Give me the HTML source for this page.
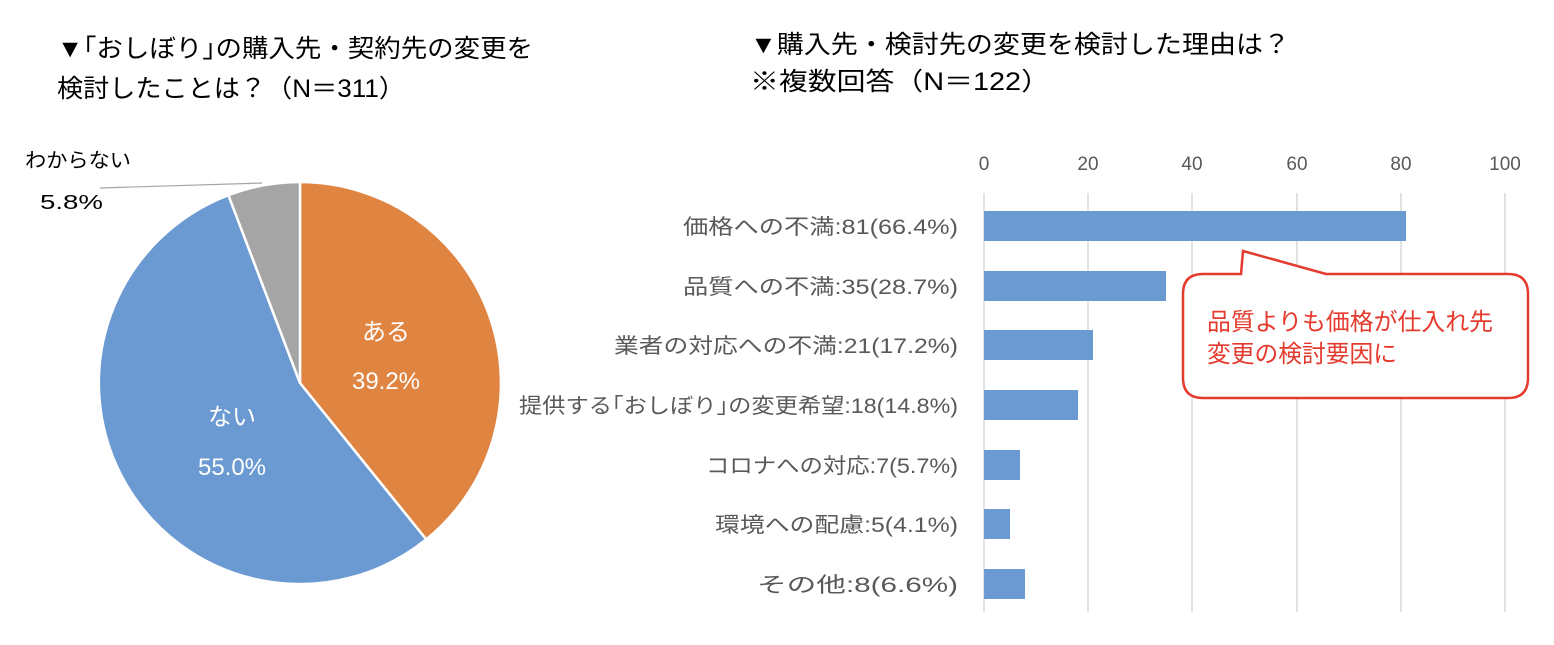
<!DOCTYPE html>
<html><head><meta charset="utf-8"><style>
body{margin:0;background:#fff;}
svg text{font-family:"Liberation Sans","Noto Sans CJK JP",sans-serif;}
</style></head><body>
<svg width="1554" height="640" viewBox="0 0 1554 640" xmlns="http://www.w3.org/2000/svg">
<rect width="1554" height="640" fill="#fff"/>
<text x="57" y="57" font-size="25" fill="#000" textLength="476" lengthAdjust="spacingAndGlyphs">▼｢おしぼり｣の購入先・契約先の変更を</text>
<text x="57" y="97" font-size="25" fill="#000" textLength="348" lengthAdjust="spacingAndGlyphs">検討したことは？（N＝311）</text>
<text x="750" y="53" font-size="25" fill="#000" textLength="540" lengthAdjust="spacingAndGlyphs">▼購入先・検討先の変更を検討した理由は？</text>
<text x="750" y="90" font-size="25" fill="#000" textLength="300" lengthAdjust="spacingAndGlyphs">※複数回答（N＝122）</text>
<!-- pie -->
<g stroke="#fff" stroke-width="2.5" stroke-linejoin="round">
<path d="M300,383 L300,182 A201,201 0 0 1 426.2,539.4 Z" fill="#E08442"/>
<path d="M300,383 L426.2,539.4 A201,201 0 1 1 228.4,195.2 Z" fill="#6B9AD2"/>
<path d="M300,383 L228.4,195.2 A201,201 0 0 1 300,182 Z" fill="#A5A5A5"/>
</g>
<text x="386" y="340" font-size="24" fill="#fff" text-anchor="middle">ある</text>
<text x="386" y="389" font-size="24" fill="#fff" text-anchor="middle">39.2%</text>
<text x="232" y="425" font-size="24" fill="#fff" text-anchor="middle">ない</text>
<text x="232" y="475" font-size="24" fill="#fff" text-anchor="middle">55.0%</text>
<polyline points="100,188 262,183" stroke="#A5A5A5" stroke-width="1.2" fill="none"/>
<text x="25" y="167" font-size="20" fill="#000" textLength="106" lengthAdjust="spacingAndGlyphs">わからない</text>
<text x="40" y="209" font-size="20" fill="#000" textLength="63" lengthAdjust="spacingAndGlyphs">5.8%</text>
<!-- bar chart -->
<g stroke="#D9D9D9" stroke-width="1.5">
<line x1="984" y1="193" x2="984" y2="612"/><line x1="1088" y1="193" x2="1088" y2="612"/>
<line x1="1192" y1="193" x2="1192" y2="612"/><line x1="1297" y1="193" x2="1297" y2="612"/>
<line x1="1401" y1="193" x2="1401" y2="612"/><line x1="1505" y1="193" x2="1505" y2="612"/>
</g>
<g font-size="19" fill="#595959" text-anchor="middle">
<text x="984" y="170">0</text><text x="1088" y="170">20</text><text x="1192" y="170">40</text>
<text x="1297" y="170">60</text><text x="1401" y="170">80</text><text x="1505" y="170">100</text>
</g>
<g fill="#6B9AD2">
<rect x="984" y="211" width="422" height="30"/>
<rect x="984" y="271" width="182" height="30"/>
<rect x="984" y="330" width="109" height="30"/>
<rect x="984" y="390" width="94" height="30"/>
<rect x="984" y="450" width="36" height="30"/>
<rect x="984" y="509" width="26" height="30"/>
<rect x="984" y="569" width="41" height="30"/>
</g>
<g font-size="21" fill="#595959" text-anchor="end" lengthAdjust="spacingAndGlyphs">
<text x="958" y="234" textLength="275" lengthAdjust="spacingAndGlyphs">価格への不満:81(66.4%)</text>
<text x="958" y="294" textLength="275" lengthAdjust="spacingAndGlyphs">品質への不満:35(28.7%)</text>
<text x="958" y="353" textLength="344" lengthAdjust="spacingAndGlyphs">業者の対応への不満:21(17.2%)</text>
<text x="958" y="413" textLength="439" lengthAdjust="spacingAndGlyphs">提供する｢おしぼり｣の変更希望:18(14.8%)</text>
<text x="958" y="473" textLength="252" lengthAdjust="spacingAndGlyphs">コロナへの対応:7(5.7%)</text>
<text x="958" y="532" textLength="243" lengthAdjust="spacingAndGlyphs">環境への配慮:5(4.1%)</text>
<text x="958" y="592" textLength="201" lengthAdjust="spacingAndGlyphs">その他:8(6.6%)</text>
</g>
<!-- callout -->
<path d="M1203,274 L1241,274 L1243,251 L1326,274 L1508,274 Q1528,274 1528,294 L1528,378 Q1528,398 1508,398 L1203,398 Q1183,398 1183,378 L1183,294 Q1183,274 1203,274 Z" fill="#fff" stroke="#E53A2E" stroke-width="2.5"/>
<text x="1207" y="330" font-size="24" fill="#E53A2E" textLength="286" lengthAdjust="spacingAndGlyphs">品質よりも価格が仕入れ先</text>
<text x="1207" y="362" font-size="24" fill="#E53A2E" textLength="190" lengthAdjust="spacingAndGlyphs">変更の検討要因に</text>
</svg>
</body></html>
